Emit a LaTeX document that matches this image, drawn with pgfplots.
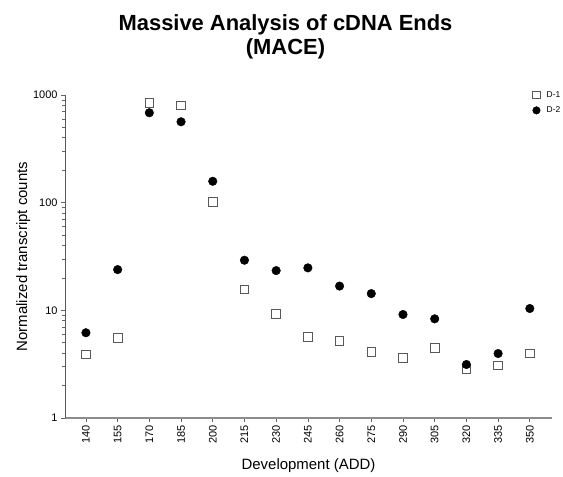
\documentclass[border=0pt]{standalone}
\usepackage{pgfplots}
\pgfplotsset{compat=1.18}
\usepackage{fontspec}
\setmainfont{Liberation Sans}
\begin{document}
\begin{tikzpicture}
\begin{axis}[
  scale only axis,
  width=487bp, height=323bp,
  ymode=log, ymin=1, ymax=1000,
  log ticks with fixed point,
  /pgf/number format/1000 sep={},
  ytick={1,10,100,1000},
  xmin=-0.66, xmax=14.7,
  xtick={0,...,14},
  xticklabels={140,155,170,185,200,215,230,245,260,275,290,305,320,335,350},
  x tick label style={rotate=90, anchor=east, font=\fontsize{11}{13}\selectfont},
  y tick label style={font=\fontsize{11}{13}\selectfont},
  /pgf/number format/assume math mode=true,
  axis x line*=bottom, axis y line*=left,
  x axis line style={black!45, line width=1.2pt},
  y axis line style={black!65, line width=0.8pt},
  tick style={black!60, line width=0.7pt},
  tick align=outside,
  major tick length=4bp,
  minor tick length=2.5bp,
  xlabel={Development (ADD)},
  ylabel={Normalized transcript counts},
  label style={font=\fontsize{15}{18}\selectfont},
  xlabel style={yshift=-8bp},
  ylabel style={yshift=-4bp},
  title={\textbf{Massive Analysis of cDNA Ends}\\\textbf{(MACE)}},
  title style={font=\fontsize{22}{25}\selectfont, align=center, yshift=26bp, xshift=-23bp},
  legend style={draw=none, fill=none, inner sep=0pt, at={(0.957,1.018)}, anchor=north west, font=\fontsize{8.5}{10}\selectfont, row sep=4bp,
    legend image code/.code={\path (-5bp,0bp) (8bp,0bp); \draw[mark size=3.8bp,#1] plot coordinates {(0bp,0bp)};}},
  legend cell align=left,
  clip=false,
]
\addplot[only marks, mark=square, mark size=4.3bp, mark options={draw=black!65, line width=0.8pt, fill=white}] coordinates {
(0,3.89) (1,5.56) (2,846) (3,799) (4,102) (5,15.6) (6,9.29) (7,5.63) (8,5.17) (9,4.12) (10,3.62) (11,4.49) (12,2.86) (13,3.09) (14,3.97)
};
\addlegendentry{D-1}
\addplot[only marks, mark=*, mark size=4.3bp, mark options={draw=black, fill=black}] coordinates {
(0,6.19) (1,23.9) (2,684) (3,564) (4,158) (5,29.2) (6,23.4) (7,24.8) (8,16.8) (9,14.3) (10,9.15) (11,8.34) (12,3.14) (13,3.97) (14,10.4)
};
\addlegendentry{D-2}
\end{axis}
\path (current axis.south west) ++(-65bp,-59bp) coordinate (bl);
\path (current axis.north east) ++(11bp,95bp) coordinate (tr);
\path (bl) rectangle (tr);
\end{tikzpicture}
\end{document}
